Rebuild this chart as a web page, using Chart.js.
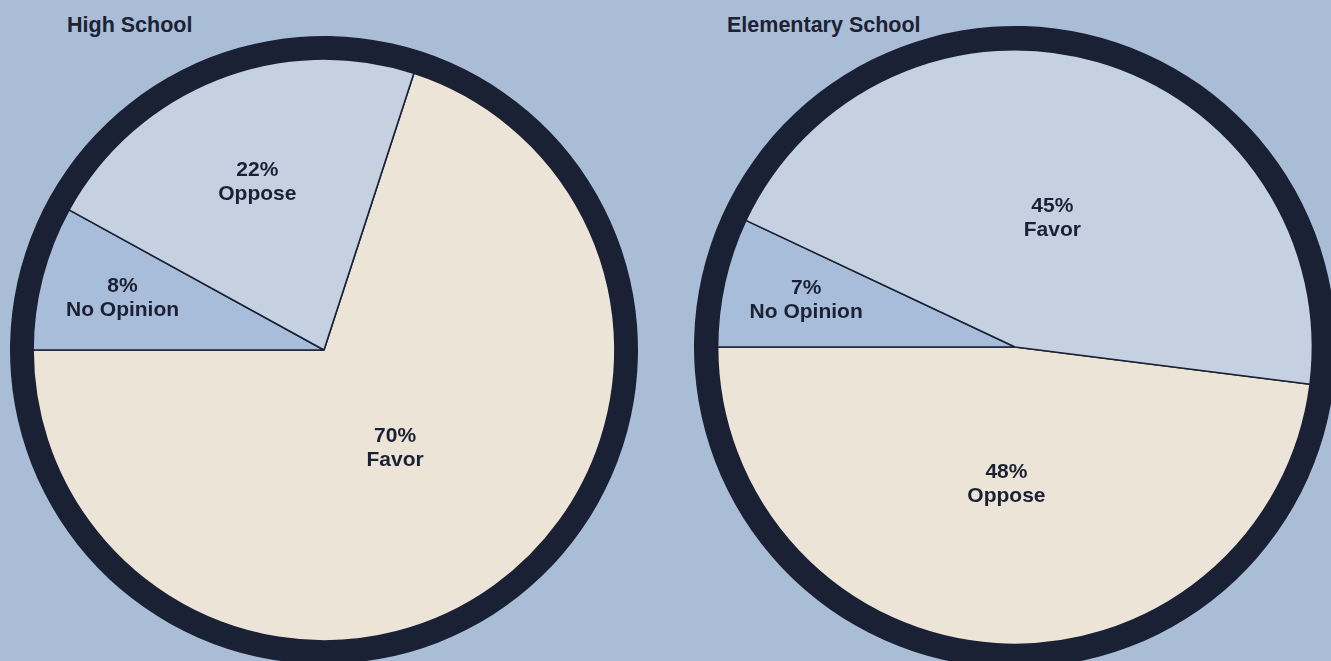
<!DOCTYPE html>
<html>
<head>
<meta charset="utf-8">
<script src="https://cdn.jsdelivr.net/npm/chart.js@4.4.1/dist/chart.umd.min.js"></script>
<style>
  html, body { margin: 0; padding: 0; }
  body {
    width: 1331px; height: 661px; overflow: hidden; position: relative;
    background: #a9bdd7;
    font-family: "Liberation Sans", Arial, sans-serif;
  }
  .title {
    position: absolute; font-weight: bold; font-size: 21.5px; color: #1c2234;
    line-height: 1; white-space: nowrap;
  }
  canvas { position: absolute; }
</style>
</head>
<body>
<div class="title" style="left:67px; top:15px;">High School</div>
<div class="title" style="left:727px; top:15px;">Elementary School</div>
<canvas id="high" width="628" height="628" style="left:10px; top:36px;"></canvas>
<canvas id="elem" width="642" height="642" style="left:694px; top:26px;"></canvas>
<script>
// slices in clockwise order
const highLabels = ['Favor', 'No Opinion', 'Oppose'];
const highValues = [70, 8, 22];

const elemLabels = ['Oppose', 'No Opinion', 'Favor'];
const elemValues = [48, 7, 45];

const ink = '#1b2135';
const cream = '#ece4d7';
const paleBlue = '#c5d1e1';
const midBlue = '#a8bdd9';

// writes "NN%" and the category inside each slice
const sliceText = {
  id: 'sliceText',
  afterDatasetsDraw(chart, args, opts) {
    const ctx = chart.ctx;
    const meta = chart.getDatasetMeta(1);
    const ds = chart.data.datasets[1];
    ctx.save();
    ctx.fillStyle = ink;
    ctx.font = 'bold 21px "Liberation Sans", Arial, sans-serif';
    ctx.textAlign = 'center';
    ctx.textBaseline = 'middle';
    meta.data.forEach((arc, i) => {
      const p = arc.getProps(['x', 'y', 'startAngle', 'endAngle']);
      const mid = (p.startAngle + p.endAngle) / 2;
      const r = opts.dist[i];
      const x = p.x + r * Math.cos(mid);
      const y = p.y + r * Math.sin(mid);
      ctx.fillText(ds.data[i] + '%', x, y - 12);
      ctx.fillText(chart.data.labels[i], x, y + 12);
    });
    ctx.restore();
  }
};

function makePie(id, labels, values, colors, rotation, dist) {
  new Chart(document.getElementById(id), {
    type: 'pie',
    data: {
      labels: labels,
      datasets: [
        {
          data: [1],
          backgroundColor: [ink],
          borderWidth: 0,
          weight: 23
        },
        {
          data: values,
          backgroundColor: colors,
          borderColor: ink,
          borderWidth: 1.6,
          weight: 290
        }
      ]
    },
    options: {
      responsive: false,
      animation: false,
      rotation: rotation,
      layout: { padding: 0 },
      plugins: {
        legend: { display: false },
        tooltip: { enabled: false },
        sliceText: { dist: dist }
      }
    },
    plugins: [sliceText]
  });
}

makePie('high', highLabels, highValues, [cream, midBlue, paleBlue], 18, [121, 208, 181]);
makePie('elem', elemLabels, elemValues, [cream, midBlue, paleBlue], 97.2, [137, 214, 134]);
</script>
</body>
</html>
